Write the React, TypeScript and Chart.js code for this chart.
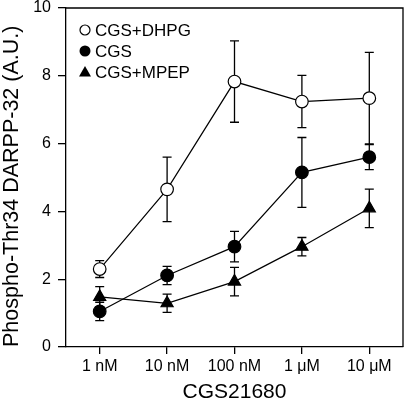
import React, { useEffect, useRef } from "react";
import { Chart, registerables } from "chart.js";

Chart.register(...registerables);

const categories = ["1 nM", "10 nM", "100 nM", "1 μM", "10 μM"];
const seriesNames = ["CGS+DHPG", "CGS", "CGS+MPEP"];
const dhpgValues = [2.3, 4.65, 7.83, 7.24, 7.34];
const dhpgErrors = [0.25, 0.95, 1.2, 0.77, 1.35];
const cgsValues = [1.05, 2.11, 2.96, 5.15, 5.6];
const cgsErrors = [0.27, 0.27, 0.45, 1.03, 0.37];
const mpepValues = [1.48, 1.29, 1.93, 2.96, 4.09];
const mpepErrors = [0.3, 0.27, 0.42, 0.27, 0.57];
const yTicks = [0, 2, 4, 6, 8, 10];

const FONT = "'Liberation Sans', Arial, Helvetica, sans-serif";

const errorsByDataset = [dhpgErrors, cgsErrors, mpepErrors];

const errorBarPlugin = {
  id: "errorBars",
  beforeDatasetsDraw(chart: any) {
    const ctx = chart.ctx;
    const xs = chart.scales.x;
    const ys = chart.scales.y;
    ctx.save();
    ctx.strokeStyle = "#000";
    ctx.lineWidth = 1.3;
    chart.data.datasets.forEach((ds: any, di: number) => {
      const errs = errorsByDataset[di];
      ds.data.forEach((v: number, i: number) => {
        const x = xs.getPixelForValue(i);
        const yt = ys.getPixelForValue(v + errs[i]);
        const yb = ys.getPixelForValue(v - errs[i]);
        const cap = 4.5;
        ctx.beginPath();
        ctx.moveTo(x, yt);
        ctx.lineTo(x, yb);
        ctx.moveTo(x - cap, yt);
        ctx.lineTo(x + cap, yt);
        ctx.moveTo(x - cap, yb);
        ctx.lineTo(x + cap, yb);
        ctx.stroke();
      });
    });
    ctx.restore();
  },
};

const framePlugin = {
  id: "frameAndLegend",
  afterDraw(chart: any) {
    const ctx = chart.ctx;
    const { left, right, top, bottom } = chart.chartArea;
    ctx.save();
    ctx.strokeStyle = "#000";
    ctx.lineWidth = 1.3;
    ctx.beginPath();
    ctx.moveTo(left, top);
    ctx.lineTo(right, top);
    ctx.lineTo(right, bottom);
    ctx.stroke();

    // legend
    const mx = left + 19;
    const tx = left + 29;
    const rows = [top + 22, top + 43, top + 64];
    ctx.font = `17px ${FONT}`;
    ctx.textBaseline = "middle";
    ctx.textAlign = "left";
    ctx.fillStyle = "#000";
    seriesNames.forEach((name, i) => {
      const y = rows[i];
      ctx.lineWidth = 1.2;
      if (i === 0) {
        ctx.beginPath();
        ctx.arc(mx, y, 5, 0, Math.PI * 2);
        ctx.fillStyle = "#fff";
        ctx.fill();
        ctx.stroke();
      } else if (i === 1) {
        ctx.beginPath();
        ctx.arc(mx, y, 5.5, 0, Math.PI * 2);
        ctx.fillStyle = "#000";
        ctx.fill();
      } else {
        ctx.beginPath();
        ctx.moveTo(mx, y - 6);
        ctx.lineTo(mx + 6, y + 4.5);
        ctx.lineTo(mx - 6, y + 4.5);
        ctx.closePath();
        ctx.fillStyle = "#000";
        ctx.fill();
      }
      ctx.fillStyle = "#000";
      ctx.fillText(name, tx, y + 1);
    });
    ctx.restore();
  },
};

function zeroPadding(scale: any) {
  scale.paddingTop = 0;
  scale.paddingBottom = 0;
  scale.paddingLeft = 0;
  scale.paddingRight = 0;
}

export default function App() {
  const ref = useRef<HTMLCanvasElement | null>(null);
  useEffect(() => {
    if (!ref.current) return;
    const common = {
      borderColor: "#000",
      borderWidth: 1.2,
      pointBorderColor: "#000",
      pointBorderWidth: 1.2,
      tension: 0,
      clip: false,
    };
    const chart = new Chart(ref.current, {
      type: "line",
      data: {
        labels: categories,
        datasets: [
          {
            ...common,
            label: seriesNames[0],
            data: dhpgValues,
            pointStyle: "circle",
            pointRadius: 6.3,
            pointBackgroundColor: "#fff",
          },
          {
            ...common,
            label: seriesNames[1],
            data: cgsValues,
            pointStyle: "circle",
            pointRadius: 6.3,
            pointBackgroundColor: "#000",
          },
          {
            ...common,
            label: seriesNames[2],
            data: mpepValues,
            pointStyle: "triangle",
            pointRadius: 7,
            pointBackgroundColor: "#000",
          },
        ],
      },
      options: {
        responsive: false,
        animation: false,
        layout: { autoPadding: false, padding: { top: 8, right: 1, left: 0, bottom: 0 } },
        plugins: { legend: { display: false }, tooltip: { enabled: false } },
        scales: {
          x: {
            type: "category",
            offset: true,
            grid: {
              drawOnChartArea: false,
              drawTicks: true,
              tickLength: 7,
              color: "#000",
              lineWidth: 1.3,
              offset: false,
            },
            border: { display: true, color: "#000", width: 1.3 },
            ticks: {
              color: "#000",
              font: { family: FONT, size: 16 },
              padding: 3,
              maxRotation: 0,
              autoSkip: false,
            },
            title: {
              display: true,
              text: "CGS21680",
              color: "#000",
              font: { family: FONT, size: 21, lineHeight: 1 },
              padding: { top: 0, bottom: 1.5 },
            },
            afterFit(scale: any) {
              scale.height = 57;
              zeroPadding(scale);
            },
          },
          y: {
            min: 0,
            max: 10,
            afterBuildTicks(scale: any) {
              scale.ticks = yTicks.map((v) => ({ value: v }));
            },
            grid: {
              drawOnChartArea: false,
              drawTicks: true,
              tickLength: 8,
              color: "#000",
              lineWidth: 1.3,
            },
            border: { display: true, color: "#000", width: 1.3 },
            ticks: {
              color: "#000",
              font: { family: FONT, size: 16 },
              padding: 7,
            },
            title: {
              display: true,
              align: "start",
              text: "Phospho-Thr34 DARPP-32 (A.U.)",
              color: "#000",
              font: { family: FONT, size: 21.5, lineHeight: 1 },
              padding: { top: 1, bottom: 0 },
            },
            afterFit(scale: any) {
              scale.width = 66;
              zeroPadding(scale);
            },
          },
        },
      },
      plugins: [errorBarPlugin, framePlugin],
    } as any);
    return () => chart.destroy();
  }, []);
  return (
    <div style={{ position: "fixed", left: 0, top: 0, width: 404, height: 404, background: "#fff" }}>
      <canvas ref={ref} width={404} height={404} style={{ display: "block" }} />
    </div>
  );
}
